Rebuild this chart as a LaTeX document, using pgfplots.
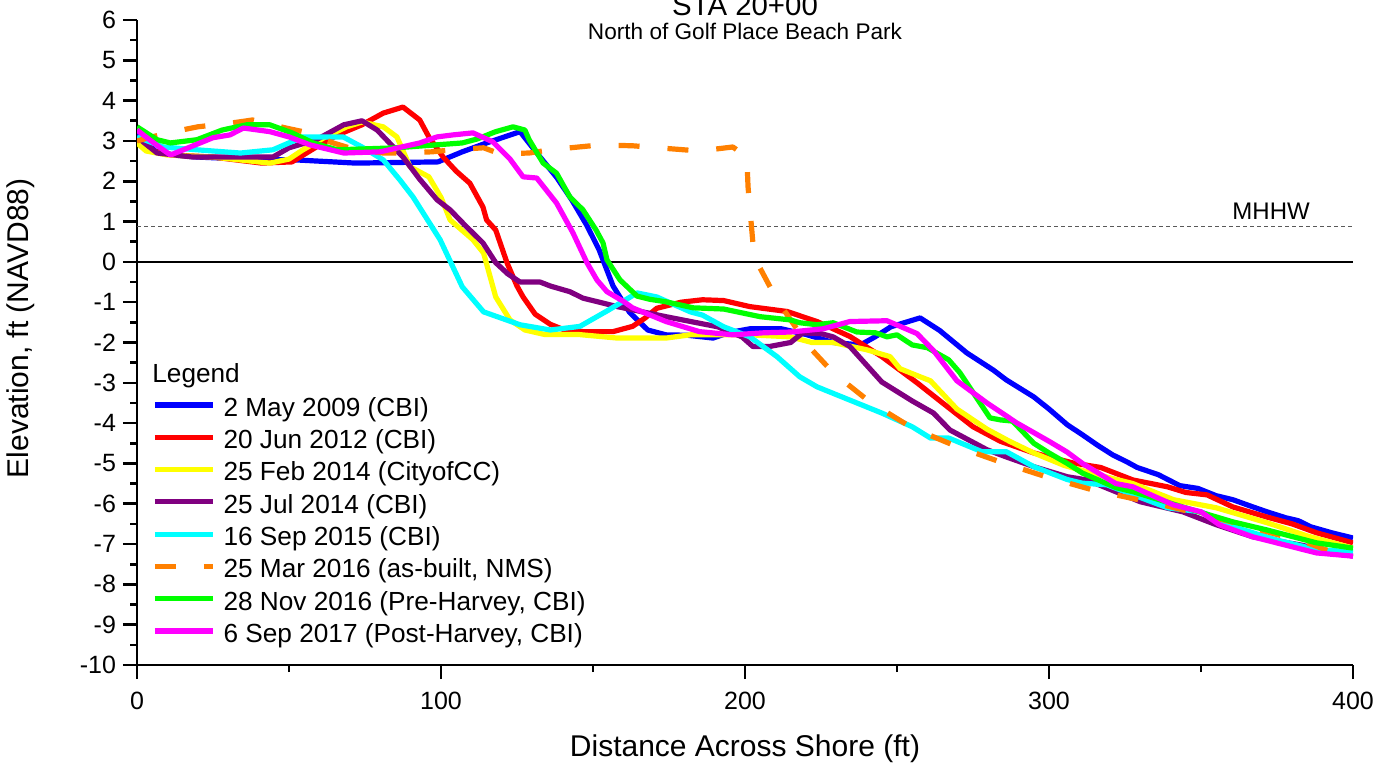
\documentclass[border=0pt]{standalone}
\usepackage{fontspec}
\setmainfont{Liberation Sans}
\usepackage{pgfplots}
\pgfplotsset{compat=1.18}
\definecolor{cblue}{RGB}{0,0,255}
\definecolor{cred}{RGB}{255,0,0}
\definecolor{cyel}{RGB}{255,255,0}
\definecolor{cpur}{RGB}{128,0,128}
\definecolor{ccyan}{RGB}{0,255,255}
\definecolor{corange}{RGB}{255,128,0}
\definecolor{cgreen}{RGB}{0,255,0}
\definecolor{cmag}{RGB}{255,0,255}
\begin{document}
\begin{tikzpicture}
\begin{axis}[
  scale only axis, width=608pt, height=322.5pt,
  xmin=0, xmax=400, ymin=-10, ymax=6,
  axis x line*=bottom, axis y line*=left,
  axis line style={line width=1.3pt, -},
  xtick={0,100,200,300,400}, ytick={-10,-9,...,6},
  minor x tick num=1, minor y tick num=1,
  tick align=outside,
  major tick length=7pt, minor tick length=3.5pt,
  every tick/.style={black, line width=1.3pt},
  tick label style={font=\fontsize{12.5}{14}\selectfont},
  xticklabel style={yshift=-3pt},
  /pgf/number format/assume math mode=true,
  xlabel={Distance Across Shore (ft)}, ylabel={Elevation, ft (NAVD88)},
  every axis x label/.style={at={(axis description cs:0.5,-0.1426)}, anchor=base, font=\fontsize{15}{18}\selectfont},
  every axis y label/.style={at={(axis description cs:-0.0954,0.522)}, rotate=90, anchor=center, font=\fontsize{15}{18}\selectfont},
  clip mode=individual,
  legend cell align=left,
  legend style={draw=none, fill=none, at={(axis cs:4.93,-3.374)}, anchor=north west,
    inner sep=0pt, row sep=4.65pt, font=\fontsize{13.1}{15}\selectfont,
    nodes={inner sep=0pt, text height=9pt, text depth=2.5pt},
    /tikz/every odd column/.append style={column sep=4pt}},
  legend image code/.code={\draw[#1] (0pt,2.4pt) -- (29pt,2.4pt);},
  every axis plot/.append style={line width=2.6pt, line join=round},
]
\addplot[forget plot, black, line width=0.7pt] coordinates {(0,0) (400,0)};
\addplot[forget plot, gray!70!black, line width=0.7pt, dash pattern=on 2pt off 1.5pt] coordinates {(0,0.88) (400,0.88)};
\addplot[cblue] coordinates {
(0,3.2) (6,2.75) (12,2.65) (20,2.6) (35,2.55) (52,2.53) (72,2.45) (99,2.48) (107,2.73) (115,2.95) (126,3.23) (132.6,2.6) (138,2.1) (143,1.54) (148,0.9) (152,0.3) (156.6,-0.6) (162,-1.25) (168,-1.69) (174,-1.81) (181,-1.82) (189.5,-1.89) (195,-1.75) (201.6,-1.66) (212,-1.66) (220,-1.8) (229,-2.0) (238,-2.06) (243,-1.85) (248,-1.61) (257.6,-1.39) (264,-1.7) (273,-2.26) (281.6,-2.68) (286,-2.93) (295,-3.35) (300,-3.65) (306,-4.04) (311,-4.29) (316,-4.55) (321,-4.79) (325.6,-4.96) (329,-5.1) (336,-5.28) (343,-5.55) (349,-5.62) (355,-5.8) (360.5,-5.9) (366,-6.05) (371.7,-6.2) (378,-6.35) (382,-6.42) (386,-6.57) (393,-6.72) (400,-6.85)};
\addlegendentry{2 May 2009 (CBI)}
\addplot[cred] coordinates {
(0,3.1) (5,2.75) (12,2.65) (25,2.6) (41,2.45) (51,2.48) (59,2.85) (66,3.15) (74,3.4) (81,3.69) (87.5,3.84) (93,3.52) (96,3.1) (100.7,2.6) (105,2.25) (109.5,1.95) (113.8,1.36) (115,1.04) (118,0.79) (121.7,-0.02) (125,-0.6) (127,-0.87) (131,-1.3) (136,-1.55) (141,-1.7) (146.7,-1.73) (156.6,-1.73) (163,-1.6) (167,-1.4) (171,-1.15) (179,-1.0) (186,-0.94) (193,-0.96) (201.6,-1.11) (213.8,-1.23) (223.7,-1.48) (234.5,-1.85) (245,-2.35) (256.6,-3.0) (265,-3.5) (275,-4.09) (284,-4.45) (295,-4.74) (308,-4.99) (317,-5.1) (327.6,-5.41) (339,-5.58) (345,-5.72) (352,-5.78) (360.5,-6.08) (371.7,-6.33) (380,-6.5) (388,-6.72) (400,-6.97)};
\addlegendentry{20 Jun 2012 (CBI)}
\addplot[cyel] coordinates {
(0,2.95) (3,2.75) (10,2.65) (25,2.6) (43.7,2.45) (50,2.55) (54.6,2.78) (62,3.1) (69,3.35) (74,3.47) (81,3.35) (85.5,3.1) (89.8,2.36) (96,2.11) (100,1.6) (103,1.04) (110.5,0.55) (114,0.22) (118,-0.87) (122.7,-1.44) (127.6,-1.69) (134,-1.8) (145,-1.8) (158,-1.89) (174,-1.89) (182,-1.81) (201.6,-1.81) (215,-1.86) (222,-2.0) (229,-2.0) (240,-2.18) (247.7,-2.35) (251,-2.65) (257.6,-2.85) (261,-2.95) (269.7,-3.65) (279.6,-4.15) (287,-4.45) (295,-4.74) (305,-5.05) (317,-5.3) (327.6,-5.5) (341,-5.9) (355,-6.1) (371.7,-6.47) (385,-6.8) (400,-7.1)};
\addlegendentry{25 Feb 2014 (CityofCC)}
\addplot[cpur] coordinates {
(0,3.1) (6.6,2.7) (18.4,2.6) (30,2.6) (44.7,2.6) (50,2.83) (59,3.03) (68,3.4) (74,3.5) (79,3.27) (87.5,2.6) (93,2.05) (98.7,1.54) (103,1.29) (108,0.9) (113.8,0.47) (118,-0.02) (122,-0.3) (126,-0.5) (132.6,-0.5) (136,-0.6) (142.4,-0.74) (146.7,-0.9) (158,-1.11) (174,-1.36) (191,-1.61) (199,-1.86) (202.6,-2.1) (208,-2.1) (215,-2.0) (219,-1.76) (225,-1.78) (229,-1.86) (234.5,-2.1) (245,-2.98) (255,-3.45) (262,-3.75) (267.4,-4.17) (279.6,-4.66) (286,-4.84) (295,-5.08) (306,-5.33) (312.5,-5.41) (330,-5.95) (344,-6.2) (355,-6.52) (367,-6.82) (382.6,-7.02) (400,-7.3)};
\addlegendentry{25 Jul 2014 (CBI)}
\addplot[ccyan] coordinates {
(0,3.1) (8.6,2.85) (19.7,2.78) (34,2.7) (44.7,2.78) (54.6,3.1) (67.8,3.1) (74,2.85) (81,2.53) (86.5,2.03) (90.8,1.61) (99.7,0.55) (107,-0.62) (114,-1.24) (126,-1.56) (136,-1.69) (145.7,-1.6) (155,-1.2) (164.5,-0.77) (171,-0.87) (182,-1.24) (186,-1.32) (193,-1.61) (201.6,-1.86) (210.5,-2.35) (218,-2.85) (223.7,-3.1) (245,-3.75) (255,-4.09) (261,-4.37) (267,-4.37) (278,-4.71) (286,-4.71) (295,-5.08) (306,-5.4) (311,-5.49) (319,-5.53) (339,-6.1) (350,-6.2) (360.5,-6.57) (375,-6.9) (388,-7.14) (400,-7.19)};
\addlegendentry{16 Sep 2015 (CBI)}
\addplot[corange, dash pattern=on 10.5pt off 14pt] coordinates {
(0,3.0) (10,3.2) (20,3.35) (31.6,3.45) (38,3.52) (49,3.32) (54.6,3.23) (64.5,2.95) (72,2.78) (81,2.7) (87.5,2.7) (97,2.73) (104,2.78) (114,2.83) (119.4,2.68) (129,2.7) (136,2.78) (152,2.9) (163,2.88) (185,2.75) (196,2.85) (200.6,2.6) (201,1.86) (203,0.12) (210.5,-0.94) (221,-2.1) (229,-2.75) (241,-3.47) (255,-4.12) (270,-4.59) (285,-4.99) (299,-5.33) (314.5,-5.66) (337.5,-6.03) (360,-6.45) (385,-6.97) (400,-7.4)};
\addlegendentry{25 Mar 2016 (as-built, NMS)}
\addplot[cgreen] coordinates {
(0,3.35) (6.6,3.03) (11,2.95) (19.7,3.03) (28,3.27) (36,3.4) (43.7,3.4) (51,3.2) (58,2.95) (65.8,2.78) (85.5,2.83) (107,2.95) (112,3.05) (118,3.23) (123.7,3.35) (127.6,3.27) (129,3.03) (133.6,2.45) (138,2.2) (142.4,1.61) (146.7,1.29) (151,0.79) (153.3,0.47) (154.6,0.05) (158.9,-0.45) (164.5,-0.85) (168.8,-0.93) (174,-0.99) (183,-1.14) (193,-1.17) (205,-1.36) (215,-1.44) (218,-1.51) (223.7,-1.56) (229,-1.51) (236.8,-1.74) (243,-1.76) (246.7,-1.86) (250,-1.81) (255,-2.06) (260,-2.13) (267,-2.43) (270.7,-2.75) (276,-3.35) (280.6,-3.87) (284,-3.92) (288,-3.95) (295,-4.5) (300,-4.74) (306,-5.0) (311,-5.24) (322,-5.6) (327.6,-5.7) (344,-6.08) (360.5,-6.45) (371.7,-6.65) (388,-6.97) (400,-7.1)};
\addlegendentry{28 Nov 2016 (Pre-Harvey, CBI)}
\addplot[cmag] coordinates {
(0,3.27) (5.5,2.95) (11,2.65) (17.5,2.85) (25,3.08) (30.6,3.15) (35,3.32) (43.7,3.23) (50,3.1) (57,2.9) (68,2.7) (80,2.73) (93,2.95) (98.7,3.1) (104,3.15) (110.5,3.2) (117,2.98) (122.7,2.55) (127,2.11) (131.5,2.08) (138,1.46) (143.4,0.72) (148,-0.02) (151.3,-0.45) (154.6,-0.74) (160,-0.98) (163,-1.14) (174,-1.48) (185,-1.73) (196,-1.81) (206,-1.76) (215,-1.74) (225.7,-1.66) (234.5,-1.48) (246.7,-1.46) (256.6,-1.78) (262,-2.2) (269.7,-2.95) (279.6,-3.5) (289.5,-4.0) (300,-4.45) (306,-4.72) (311,-5.0) (322,-5.5) (327.6,-5.58) (341,-6.03) (350,-6.2) (356,-6.52) (367,-6.82) (388,-7.22) (400,-7.3)};
\addlegendentry{6 Sep 2017 (Post-Harvey, CBI)}
\node[anchor=base west, font=\fontsize{13.1}{15}\selectfont, inner sep=0pt] at (axis cs:4.93,-3.0) {Legend};
\node[anchor=base east, font=\fontsize{12}{14}\selectfont, inner sep=0pt] at (axis cs:385.9,1.04) {MHHW};
\node[anchor=base, font=\fontsize{14.7}{17}\selectfont, inner sep=0pt] at ([yshift=2.2pt]axis description cs:0.5,1) {STA 20+00};
\node[anchor=base, font=\fontsize{11.3}{13}\selectfont, inner sep=0pt] at ([yshift=-10pt]axis description cs:0.5,1) {North of Golf Place Beach Park};
\coordinate (bbSW) at (axis description cs:0,0);
\coordinate (bbNE) at (axis description cs:1,1);
\end{axis}
\pgfresetboundingbox
\path ([xshift=-68.5pt,yshift=-50pt]bbSW) rectangle ([xshift=20.5pt,yshift=10pt]bbNE);
\end{tikzpicture}
\end{document}
